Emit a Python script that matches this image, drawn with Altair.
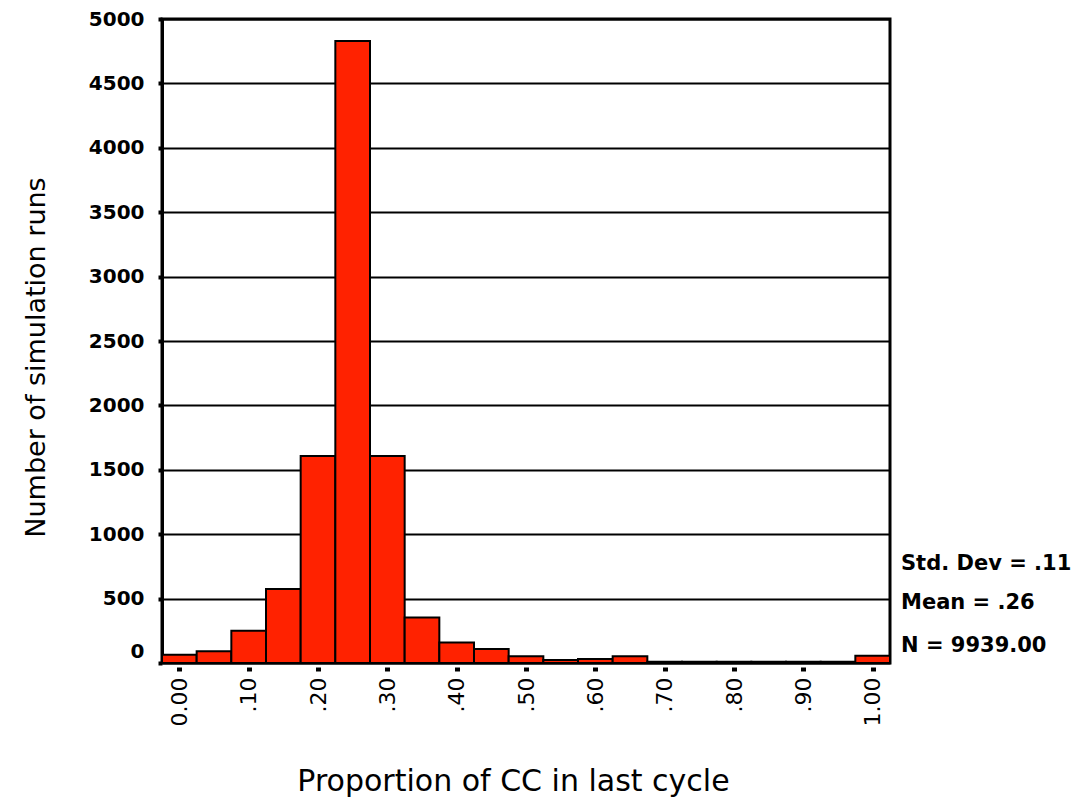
import altair as alt
import pandas as pd

# Histogram data
bin_centers = [0.00, 0.05, 0.10, 0.15, 0.20, 0.25, 0.30, 0.35, 0.40, 0.45, 0.50,
               0.55, 0.60, 0.65, 0.70, 0.75, 0.80, 0.85, 0.90, 0.95, 1.00]
run_counts = [64, 91, 250, 574, 1607, 4830, 1607, 354, 160, 108, 52,
              23, 31, 52, 10, 10, 10, 10, 10, 10, 57]
bin_width = 0.05

x_tick_values = [0.0, 0.1, 0.2, 0.3, 0.4, 0.5, 0.6, 0.7, 0.8, 0.9, 1.0]
x_tick_labels = ["0.00", ".10", ".20", ".30", ".40", ".50", ".60", ".70", ".80", ".90", "1.00"]
y_tick_values = [0, 500, 1000, 1500, 2000, 2500, 3000, 3500, 4000, 4500, 5000]

stat_labels = ["Std. Dev = .11", "Mean = .26", "N = 9939.00"]

df = pd.DataFrame({"center": bin_centers, "count": run_counts})
df["start"] = df["center"] - bin_width / 2
df["end"] = df["center"] + bin_width / 2

label_array = "[" + ",".join("'" + s + "'" for s in x_tick_labels) + "]"
x_label_expr = label_array + "[round(datum.value * 10)]"

W, H = 728, 644

bars = alt.Chart(df).mark_bar(
    color="#ff2200", stroke="black", strokeWidth=2
).encode(
    x=alt.X(
        "start:Q",
        scale=alt.Scale(domain=[-0.025, 1.025], nice=False, zero=False),
        axis=alt.Axis(
            values=x_tick_values,
            labelExpr=x_label_expr,
            labelAngle=270,
            labelFont="DejaVu Sans",
            labelFontSize=22,
            labelColor="black",
            labelPadding=6,
            domain=False,
            offset=4,
            ticks=True,
            tickSize=4,
            tickWidth=5,
            tickColor="black",
            grid=False,
            title="Proportion of CC in last cycle",
            titleFont="DejaVu Sans",
            titleFontSize=30,
            titleFontWeight="normal",
            titleColor="black",
            titleX=351,
            titleY=123,
            titleAlign="center",
            titleBaseline="alphabetic",
        ),
    ),
    x2="end:Q",
    y=alt.Y(
        "count:Q",
        scale=alt.Scale(domain=[0, 5000], nice=False),
        axis=alt.Axis(
            values=y_tick_values,
            format="d",
            grid=True,
            gridColor="black",
            gridWidth=2,
            gridOpacity=1,
            domain=True,
            domainColor="black",
            domainWidth=3,
            ticks=True,
            tickSize=4,
            tickWidth=4,
            tickColor="black",
            labelFont="DejaVu Sans",
            labelFontSize=20,
            labelFontWeight="bold",
            labelColor="black",
            labelPadding=14,
            labelOffset={"condition": {"test": "datum.value === 0", "value": -12}, "value": 0},
            title="Number of simulation runs",
            titleFont="DejaVu Sans",
            titleFontSize=27,
            titleFontWeight="normal",
            titleColor="black",
            titleX=-126,
            titleY=338,
            titleAngle=270,
            titleAlign="center",
            titleBaseline="middle",
        ),
    ),
    y2=alt.datum(0),
)

stat_y = [551, 590, 633]
layers = [bars]
for lab, yy in zip(stat_labels, stat_y):
    layers.append(
        alt.Chart(pd.DataFrame({"label": [lab]})).mark_text(
            align="left", baseline="alphabetic", font="DejaVu Sans",
            fontSize=21, fontWeight="bold", color="black"
        ).encode(text="label:N", x=alt.value(739), y=alt.value(yy))
    )

chart = alt.layer(*layers).properties(
    width=W,
    height=H,
    autosize=alt.AutoSizeParams(type="none"),
    padding={"left": 154, "top": 11, "right": 183, "bottom": 135},
    background="white",
).configure(
    font="DejaVu Sans"
).configure_view(
    stroke="black", strokeWidth=3
)

chart.save("out.html", embed_options={"renderer": "svg", "actions": False})
